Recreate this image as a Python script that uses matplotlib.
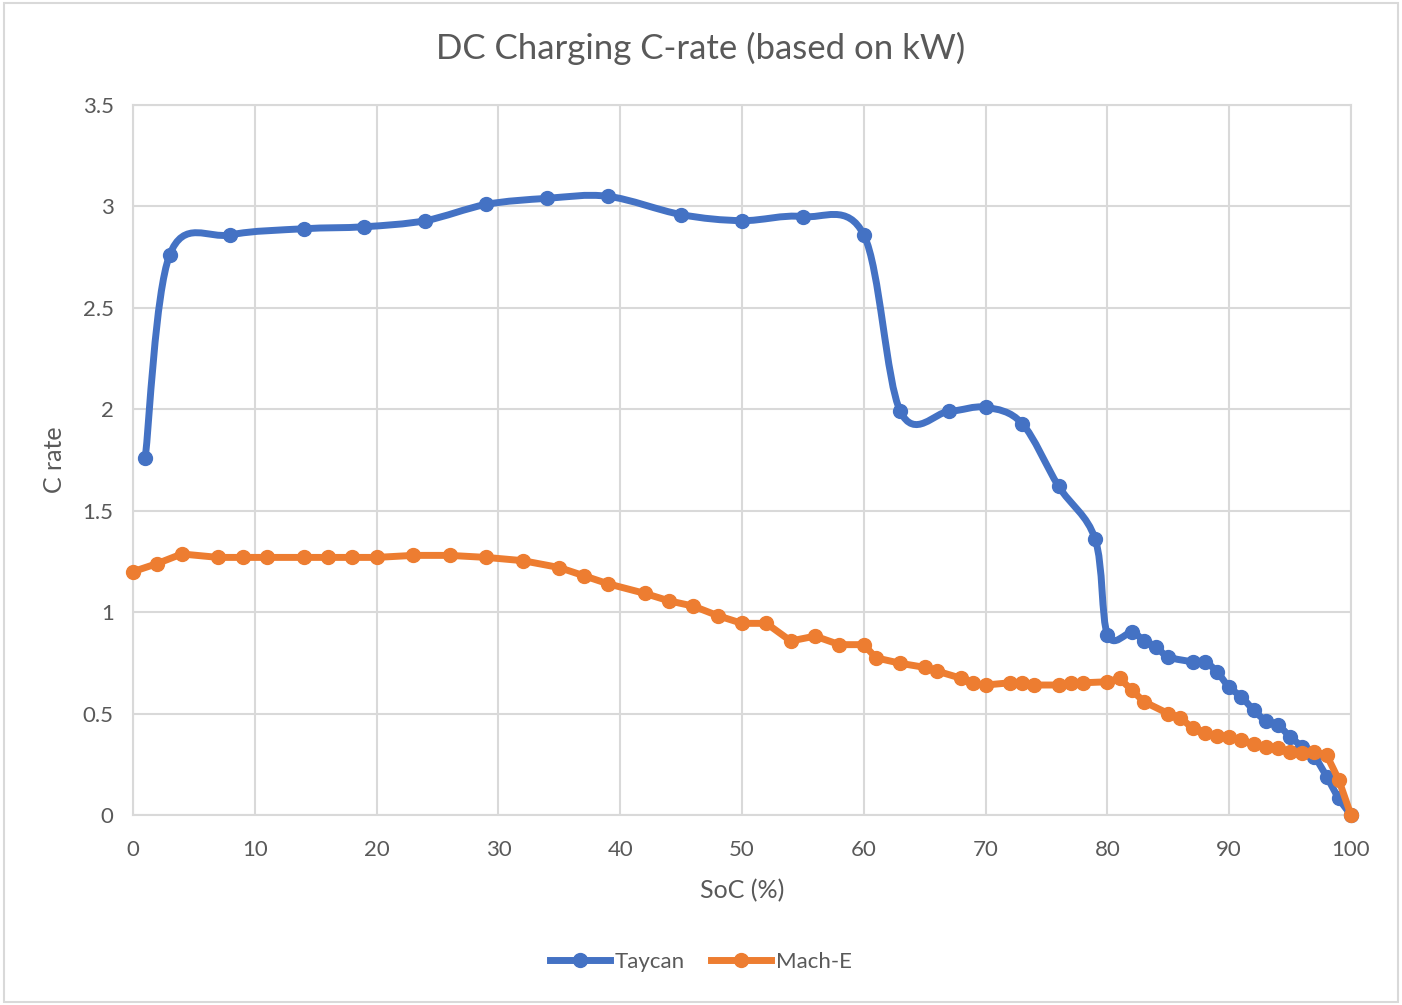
import matplotlib
matplotlib.use('Agg')
import matplotlib.pyplot as plt
from matplotlib.path import Path
from matplotlib.patches import PathPatch, Rectangle
from matplotlib.lines import Line2D

taycan_soc = [1, 3, 8, 14, 19, 24, 29, 34, 39, 45, 50, 55, 60, 63, 67, 70, 73, 76, 79, 80,
              82, 83, 84, 85, 87, 88, 89, 90, 91, 92, 93, 94, 95, 96, 97, 98, 99, 100]
taycan_c = [1.76, 2.76, 2.86, 2.89, 2.90, 2.93, 3.01, 3.04, 3.05, 2.96, 2.93, 2.95, 2.86, 1.99, 1.99, 2.01, 1.93, 1.62, 1.36, 0.89,
            0.90, 0.86, 0.83, 0.78, 0.756, 0.756, 0.706, 0.63, 0.583, 0.518, 0.465, 0.444, 0.386, 0.337, 0.287, 0.19, 0.082, 0.0]

mache_soc = [0, 2, 4, 7, 9, 11, 14, 16, 18, 20, 23, 26, 29, 32, 35, 37, 39, 42, 44, 46, 48, 50, 52, 54, 56, 58, 60,
             61, 63, 65, 66, 68, 69, 70, 72, 73, 74, 76, 77, 78, 80, 81, 82, 83, 85, 86, 87, 88, 89, 90,
             91, 92, 93, 94, 95, 96, 97, 98, 99, 100]
mache_c = [1.20, 1.24, 1.287, 1.27, 1.27, 1.27, 1.27, 1.27, 1.27, 1.27, 1.28, 1.28, 1.27, 1.254, 1.22, 1.18, 1.14, 1.093, 1.056, 1.03, 0.983, 0.945, 0.945, 0.858, 0.882, 0.84, 0.84,
           0.775, 0.748, 0.728, 0.71, 0.674, 0.649, 0.641, 0.652, 0.652, 0.641, 0.641, 0.652, 0.652, 0.657, 0.674, 0.616, 0.559, 0.50, 0.48, 0.427, 0.403, 0.39, 0.383,
           0.37, 0.35, 0.337, 0.329, 0.312, 0.307, 0.312, 0.296, 0.173, 0.0]

blue = '#4472C4'
orange = '#ED7D31'
grey = '#595959'

plt.rcParams['font.family'] = ['Lato', 'DejaVu Sans']


def smooth_path(xs, ys):
    # excel style smoothed line: catmull-rom segments as cubic beziers
    n = len(xs)
    verts = [(xs[0], ys[0])]
    codes = [Path.MOVETO]
    for i in range(n - 1):
        x0, y0 = (xs[i - 1], ys[i - 1]) if i > 0 else (xs[i], ys[i])
        x1, y1 = xs[i], ys[i]
        x2, y2 = xs[i + 1], ys[i + 1]
        x3, y3 = (xs[i + 2], ys[i + 2]) if i + 2 < n else (x2, y2)
        verts += [(x1 + (x2 - x0) / 6, y1 + (y2 - y0) / 6),
                  (x2 - (x3 - x1) / 6, y2 - (y3 - y1) / 6),
                  (x2, y2)]
        codes += [Path.CURVE4] * 3
    return Path(verts, codes)


fig = plt.figure(figsize=(14.02, 10.05), dpi=100)
ax = fig.add_axes([0.0949, 0.189, 0.8687, 0.7065])

ax.add_patch(PathPatch(smooth_path(taycan_soc, taycan_c), fill=False, edgecolor=blue,
                       lw=5, capstyle='round', joinstyle='round', zorder=3, clip_on=False))
ax.plot(taycan_soc, taycan_c, 'o', color=blue, markersize=10, zorder=4, clip_on=False)

ax.plot(mache_soc, mache_c, '-o', color=orange, lw=5, markersize=10, zorder=5,
        solid_joinstyle='round', solid_capstyle='round', clip_on=False)

ax.set_xlim(0, 100)
ax.set_ylim(0, 3.5)
ax.set_xticks(range(0, 101, 10))
ax.set_yticks([0, 0.5, 1, 1.5, 2, 2.5, 3, 3.5])
ax.set_yticklabels(['0', '0.5', '1', '1.5', '2', '2.5', '3', '3.5'])
ax.grid(True, color='#D9D9D9', lw=1.5)
ax.set_axisbelow(True)
for s in ax.spines.values():
    s.set_color('#D9D9D9')
    s.set_linewidth(1.5)
ax.tick_params(length=0, labelsize=16, colors=grey, pad=18)
ax.tick_params(axis='y', pad=14)

ax.set_xlabel('SoC (%)', fontsize=18, color=grey, labelpad=14)
ax.set_ylabel('C rate', fontsize=18, color=grey, labelpad=12)
fig.suptitle('DC Charging C-rate (based on kW)', fontsize=25, color=grey, y=0.968)

handles = [Line2D([], [], color=blue, lw=5, marker='o', markersize=10),
           Line2D([], [], color=orange, lw=5, marker='o', markersize=10)]
fig.legend(handles, ['Taycan', 'Mach-E'], loc='center', bbox_to_anchor=(0.5, 0.043),
           ncol=2, frameon=False, fontsize=16, labelcolor=grey, handlelength=2.7,
           columnspacing=1.2, handletextpad=0.2)

fig.patches.append(Rectangle((0.003, 0.003), 0.994, 0.994, transform=fig.transFigure,
                             fill=False, edgecolor='#D9D9D9', lw=1.5))

fig.savefig('out.png', dpi=100)
